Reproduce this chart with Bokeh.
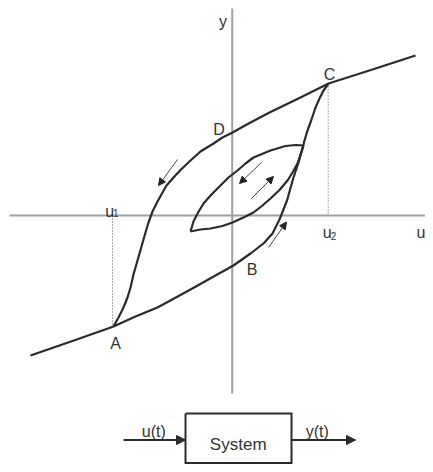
from bokeh.plotting import figure
from bokeh.models import Range1d, Arrow, NormalHead
from bokeh.core.properties import value
from bokeh.embed import file_html
from bokeh.resources import INLINE

# ---- data (pixel-like coordinates, y grows downward) ----
# main branch C -> D -> A (descending input), starting at the right end
desc_u = [415, 372, 328, 300, 270, 250, 232, 222, 213, 200, 190, 180, 173, 166, 161.5, 157, 152, 148, 145, 141, 137, 133, 130, 127, 123, 118, 113]
desc_y = [55, 69, 83, 97, 111.5, 122, 132, 137, 143, 151, 160, 169.5, 177, 185, 193, 201, 211, 222, 232, 246, 260, 274, 287, 297, 307, 317, 326]
# main branch A -> B -> C (ascending input), starting from the left end
asc_u = [30, 72, 113, 135, 157, 190, 215, 233, 250, 263, 272, 279, 286.5, 293, 298, 301.5, 304, 307, 310, 313, 315, 319, 323, 328]
asc_y = [355, 340.5, 326, 316, 307, 289, 275, 265, 253, 243, 233, 219, 200, 177, 162, 150, 140, 130, 122, 113, 107, 98, 90, 83]
# inner minor loop
inner_up_u = [303, 295, 285, 270, 253, 245, 237, 228, 220, 211, 203, 197, 193, 190]
inner_up_y = [145, 144.5, 145.5, 150, 157, 163, 170, 177, 185, 194, 203, 213, 221, 231]
inner_lo_u = [190, 200, 210, 222, 232, 243, 253, 262, 270, 279, 287, 292, 297, 300, 303]
inner_lo_y = [231, 229, 228, 225.5, 222, 217, 212, 205, 198, 189.5, 180, 172, 163, 154, 145]

# direction arrows: (u_tail, y_tail, u_head, y_head)
dir_arrows = [(177, 159, 158, 185), (261, 162, 239, 183), (251, 198, 273, 176), (268, 247, 286, 221.5)]

# axes and guide lines
axis_u0, axis_u1, axis_y_at = 9, 433, 215
vaxis_u, vaxis_y0, vaxis_y1 = 231.7, 8, 393
u1_pos, A_y = 112, 326
u2_pos, C_y = 327.7, 83

# labels: (text, x, baseline, size)
labels = [
    ("y", 222.5, 21, "16px"), ("u", 420.5, 231.7, "16px"),
    ("C", 329, 73.5, "16px"), ("D", 218.5, 128.5, "16px"),
    ("A", 115, 342.5, "16px"), ("B", 251.7, 269, "16px"),
    ("u", 109.2, 211, "16px"), ("1", 115.3, 212.5, "10px"),
    ("u", 326.7, 231.7, "16px"), ("2", 333, 235, "10px"),
]

# block diagram
box_l, box_r, box_t, box_b = 185, 291, 413, 462.5
sig_y = 439.5
in_u0, out_u1 = 123, 355
block_labels = [("u(t)", 153.3, 431, "16px"), ("y(t)", 316.7, 431, "16px"), ("System", 237.7, 444, "17px")]

p = figure(width=425, height=464, output_backend="svg", toolbar_location=None,
           x_range=Range1d(0, 425), y_range=Range1d(464, 0), min_border=0)
p.axis.visible = False
p.grid.visible = False
p.outline_line_color = None
p.background_fill_color = "white"
p.border_fill_color = "white"

AX = "#a0a0a0"
CV = "#2a2a2a"
TX = "#333333"

# axes
p.line([axis_u0, axis_u1], [axis_y_at, axis_y_at], line_color=AX, line_width=2)
p.line([vaxis_u, vaxis_u], [vaxis_y0, vaxis_y1], line_color=AX, line_width=2)
# dotted guides
p.line([u1_pos, u1_pos], [axis_y_at, A_y], line_color="#555555", line_width=1, line_dash="1 2")
p.line([u2_pos, u2_pos], [C_y, axis_y_at], line_color="#555555", line_width=1, line_dash="1 2")

# curves
p.line(desc_u, desc_y, line_color=CV, line_width=2.2, line_join="round")
p.line(asc_u, asc_y, line_color=CV, line_width=2.2, line_join="round")
p.line(inner_up_u, inner_up_y, line_color=CV, line_width=2.2, line_join="round")
p.line(inner_lo_u, inner_lo_y, line_color=CV, line_width=2.2, line_join="round")

for (x0, y0, x1, y1) in dir_arrows:
    p.add_layout(Arrow(x_start=x0, y_start=y0, x_end=x1, y_end=y1,
                       line_color="#444444", line_width=1,
                       end=NormalHead(size=7, fill_color="#222222", line_color="#222222", line_width=1)))

for (t, x, y, s) in labels:
    p.text([x], [y], text=[t], text_font=value("Liberation Sans"), text_font_size=s,
           text_color=TX, text_align="center", text_baseline="alphabetic")

# block diagram
p.line([box_l, box_r, box_r, box_l, box_l], [box_t, box_t, box_b, box_b, box_t],
       line_color=CV, line_width=2, line_join="miter")
p.add_layout(Arrow(x_start=in_u0, y_start=sig_y, x_end=box_l, y_end=sig_y,
                   line_color=CV, line_width=2,
                   end=NormalHead(size=9, fill_color=CV, line_color=CV, line_width=1)))
p.add_layout(Arrow(x_start=box_r, y_start=sig_y, x_end=out_u1, y_end=sig_y,
                   line_color=CV, line_width=2,
                   end=NormalHead(size=9, fill_color=CV, line_color=CV, line_width=1)))
for (t, x, y, s) in block_labels:
    p.text([x], [y], text=[t], text_font=value("Liberation Sans"), text_font_size=s,
           text_color=TX, text_align="center", text_baseline="alphabetic")

open("out.html", "w").write(file_html(p, INLINE))
